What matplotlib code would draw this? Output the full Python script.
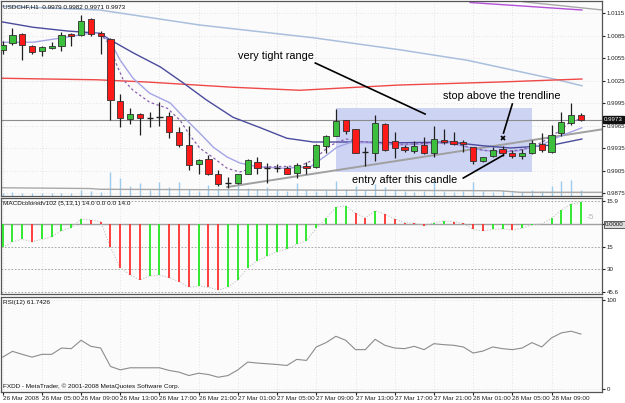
import matplotlib
matplotlib.use("Agg")
import matplotlib.pyplot as plt

# USDCHF H1, first bar 26 Mar 2008 01:00
opens = [1.0066, 1.0075, 1.0087, 1.0071, 1.0065, 1.0068, 1.0071, 1.0087, 1.0086, 1.0107,
         1.0089, 1.0081, 0.9998, 0.9974, 0.9981, 0.9975, 0.9976, 0.9978, 0.9957, 0.9939,
         0.9914, 0.9920, 0.9900, 0.9889, 0.9888, 0.9901, 0.9916, 0.9908, 0.9908, 0.9908,
         0.9902, 0.9911, 0.9910, 0.9938, 0.9951, 0.9972, 0.9960, 0.9930, 0.9929, 0.9967,
         0.9944, 0.9936, 0.9931, 0.9939, 0.9929, 0.9946, 0.9944, 0.9943, 0.9936, 0.9918,
         0.9924, 0.9934, 0.9929, 0.9924, 0.9928, 0.9941, 0.9930, 0.9955, 0.9968, 0.9979]
highs = [1.0078, 1.0095, 1.0088, 1.0072, 1.0071, 1.0077, 1.0090, 1.0088, 1.0112, 1.0108,
         1.0091, 1.0082, 1.0007, 0.9988, 0.9982, 0.9983, 0.9997, 0.9983, 0.9963, 0.9965,
         0.9921, 0.9926, 0.9906, 0.9896, 0.9901, 0.9920, 0.9923, 0.9915, 0.9914, 0.9911,
         0.9915, 0.9916, 0.9941, 0.9953, 0.9987, 0.9973, 0.9960, 0.9937, 0.9979, 0.9968,
         0.9957, 0.9939, 0.9945, 0.9950, 0.9965, 0.9960, 0.9957, 0.9946, 0.9937, 0.9923,
         0.9936, 0.9938, 0.9932, 0.9934, 0.9946, 0.9955, 0.9966, 0.9983, 0.9995, 0.9982]
lows = [1.0060, 1.0072, 1.0052, 1.0060, 1.0058, 1.0067, 1.0065, 1.0071, 1.0085, 1.0084,
        1.0061, 0.9972, 0.9963, 0.9967, 0.9952, 0.9963, 0.9964, 0.9949, 0.9936, 0.9906,
        0.9901, 0.9899, 0.9884, 0.9882, 0.9887, 0.9900, 0.9901, 0.9889, 0.9903, 0.9901,
        0.9895, 0.9901, 0.9909, 0.9929, 0.9951, 0.9954, 0.9928, 0.9911, 0.9918, 0.9931,
        0.9922, 0.9930, 0.9928, 0.9927, 0.9923, 0.9940, 0.9939, 0.9930, 0.9914, 0.9916,
        0.9923, 0.9925, 0.9922, 0.9921, 0.9927, 0.9930, 0.9929, 0.9951, 0.9966, 0.9971]
closes = [1.0072, 1.0086, 1.0073, 1.0063, 1.0070, 1.0071, 1.0086, 1.0085, 1.0105, 1.0087,
          1.0085, 0.9999, 0.9975, 0.9980, 0.9975, 0.9975, 0.9976, 0.9956, 0.9939, 0.9913,
          0.9919, 0.9900, 0.9887, 0.9889, 0.9900, 0.9919, 0.9909, 0.9908, 0.9908, 0.9901,
          0.9913, 0.9909, 0.9939, 0.9951, 0.9971, 0.9958, 0.9929, 0.9930, 0.9969, 0.9932,
          0.9935, 0.9933, 0.9938, 0.9929, 0.9947, 0.9943, 0.9941, 0.9940, 0.9918, 0.9923,
          0.9933, 0.9929, 0.9925, 0.9929, 0.9942, 0.9932, 0.9953, 0.9970, 0.9979, 0.9973]
volumes = [18, 24, 18, 18, 18, 18, 18, 18, 36, 30, 24, 144, 108, 60, 78, 36, 84, 54, 84, 42,
           30, 66, 48, 36, 78, 48, 42, 54, 36, 30, 78, 36, 30, 36, 90, 42, 60, 36, 72, 54,
           36, 30, 24, 30, 90, 30, 24, 30, 84, 30, 24, 36, 24, 24, 36, 30, 60, 90, 96, 36]

# moving averages: (bar, price)
ma_slow_x = [0, 3.1, 6.6, 9.9, 11.0, 13.3, 16.1, 18.4, 20.8, 23.5, 26.3, 29.0, 31.7, 35.4,
             40.5, 45.6, 49.0, 51.8, 54.1, 56.1, 59.1]
ma_slow_y = [1.0103, 1.0096, 1.0091, 1.0088, 1.0079, 1.0062, 1.0043, 1.0022, 0.9999, 0.9976,
             0.9962, 0.9948, 0.9943, 0.9943, 0.9942, 0.9943, 0.9938, 0.9935, 0.9937, 0.9939,
             0.9947]
ma_mid_x = [0, 3.1, 6.6, 8.9, 9.9, 11.0, 12.0, 13.3, 15.0, 17.1, 18.4, 20.1, 21.5, 22.9, 24.2,
            26.0, 28.6, 31.4, 33.1, 34.1, 35.4, 37.2, 40.5, 45.6, 47.7, 49.0, 50.7, 52.5, 53.8,
            55.1, 56.9, 59.1]
ma_mid_y = [1.0076, 1.0076, 1.0083, 1.0088, 1.0088, 1.0076, 1.0052, 1.0028, 1.0008, 0.9995,
            0.9977, 0.9955, 0.9936, 0.9923, 0.9915, 0.9910, 0.9908, 0.9910, 0.9926, 0.9936,
            0.9942, 0.9942, 0.9939, 0.9942, 0.9935, 0.9932, 0.9930, 0.9931, 0.9935, 0.9940,
            0.9951, 0.9962]
ma_fast_x = [9.9, 11.0, 11.5, 12.3, 13.3, 15.0, 16.8, 18.1, 19.1, 20.1, 21.5, 22.9, 24.2, 25.5,
             27.3, 30.3, 31.7, 33.1, 34.1, 35.1, 36.2, 37.2, 40.5, 45.6, 47.7, 49.0, 50.7, 52.5,
             53.8, 55.1, 55.8, 56.9, 57.6, 59.1]
ma_fast_y = [1.0088, 1.0072, 1.0050, 1.0026, 1.0012, 0.9996, 0.9988, 0.9972, 0.9952, 0.9935,
             0.9922, 0.9908, 0.9903, 0.9908, 0.9910, 0.9911, 0.9919, 0.9935, 0.9943, 0.9947,
             0.9944, 0.9943, 0.9940, 0.9942, 0.9936, 0.9932, 0.9930, 0.9932, 0.9936, 0.9943,
             0.9950, 0.9958, 0.9967, 0.9975]
ma_long_x = [0, 9.9, 20.1, 31.7, 40.5, 47.4, 56.6, 59.1]
ma_long_y = [1.0124, 1.0119, 1.0099, 1.0082, 1.0066, 1.0052, 1.0026, 1.0018]
ma_red_x = [0, 4.5, 9.6, 14.7, 23.5, 30.3, 40.5, 50.7, 59.1]
ma_red_y = [1.0028, 1.0027, 1.0026, 1.0023, 1.0016, 1.0012, 1.0019, 1.0023, 1.0027]
ma_purple_x = [47.7, 59.1]
ma_purple_y = [1.0129, 1.0119]
ma_gray_x = [53.1, 61.2]
ma_gray_y = [1.0130, 1.0119]
ma_low_x = [0, 8.9, 9.9, 30.3, 50.7, 52.8, 61.2]
ma_low_y = [0.9882, 0.9881, 0.9880, 0.9879, 0.9878, 0.9876, 0.9876]

trend_x = [22.9, 61.2]
trend_y = [0.9883, 0.9960]

macd = [-15.4, -11.7, -10.1, -11.7, -10.1, -8.3, -4.3, -2.3, 3.6, 2.9,
        1.8, -15.4, -29.1, -34.0, -37.4, -34.7, -34.2, -35.8, -38.5, -42.3,
        -41.4, -42.3, -44.1, -42.3, -37.4, -29.1, -24.4, -21.3, -18.4, -16.6,
        -13.4, -11.0, -2.7, 4.0, 11.4, 12.5, 7.4, 4.4, 9.1, 6.9,
        3.6, 1.1, 0.9, -0.9, 1.1, 2.2, 1.8, 0.7, -3.4, -4.5,
        -3.4, -3.1, -3.8, -2.7, -0.3, 0.3, 4.0, 9.6, 13.6, 14.8]
rsi = [35.8, 42.3, 38.9, 35.8, 38.9, 38.9, 46.0, 45.3, 54.7, 47.9,
       46.0, 25.3, 21.5, 23.8, 23.8, 23.8, 23.8, 20.8, 18.9, 15.1,
       17.7, 16.2, 13.2, 15.1, 21.5, 30.2, 29.1, 28.3, 27.5, 26.4,
       33.2, 32.1, 47.2, 52.1, 59.2, 54.7, 44.2, 44.2, 55.8, 49.1,
       46.0, 45.3, 47.9, 44.2, 50.9, 49.8, 49.1, 47.2, 40.4, 42.6,
       47.2, 45.3, 44.2, 46.0, 52.1, 47.2, 57.4, 63.0, 64.9, 61.7]

time_labels = ['26 Mar 2008', '26 Mar 05:00', '26 Mar 09:00', '26 Mar 13:00', '26 Mar 17:00',
               '26 Mar 21:00', '27 Mar 01:00', '27 Mar 05:00', '27 Mar 09:00', '27 Mar 13:00',
               '27 Mar 17:00', '27 Mar 21:00', '28 Mar 01:00', '28 Mar 05:00', '28 Mar 09:00']
price_ticks = [1.0115, 1.0085, 1.0055, 1.0025, 0.9995, 0.9965, 0.9935, 0.9905, 0.9875]
last_price = 0.9973

W, H = 625, 403
def px_rect(x0, y0, x1, y1):
    return [x0 / W, 1 - y1 / H, (x1 - x0) / W, (y1 - y0) / H]

plt.rcParams['font.family'] = ['Liberation Sans', 'DejaVu Sans']

fig = plt.figure(figsize=(6.25, 4.03), dpi=100)
fig.patch.set_facecolor('white')

ax = fig.add_axes(px_rect(1, 1, 602, 195.5))
axm = fig.add_axes(px_rect(1, 197.5, 602, 294.3), sharex=ax)
axr = fig.add_axes(px_rect(1, 296.5, 602, 392), sharex=ax)

bars = list(range(len(closes)))
grid_bars = bars[::4]
dot = (0, (1, 3))
small = 4.6
ysmall = 4.4

for a in (ax, axm, axr):
    a.set_facecolor('#fbfbfb')
    for s in a.spines.values():
        s.set_color('#555555')
        s.set_linewidth(0.9)
    a.yaxis.tick_right()
    a.tick_params(axis='y', labelsize=ysmall, length=2, pad=1.2, colors='#222222')
    a.set_xticks(grid_bars)
    for b in grid_bars:
        a.axvline(b, color='#cfcfcf', lw=0.5, ls=dot, zorder=0)
ax.set_xlim(-0.17, 61.15)

# ---- price panel
ax.set_ylim(0.98717, 1.0131)
ax.set_yticks(price_ticks)
ax.set_yticklabels(['%.4f' % p for p in price_ticks])
for p in price_ticks:
    ax.axhline(p, color='#cfcfcf', lw=0.5, ls=dot, zorder=0)
ax.tick_params(axis='x', length=0, labelbottom=False)

ax.add_patch(plt.Rectangle((34.0, 0.99034), 20.0, 0.99879 - 0.99034,
                           facecolor='#cdd4f3', edgecolor='none', zorder=1))

ax.vlines(bars, 0, [v / 1170 for v in volumes], transform=ax.get_xaxis_transform(),
          color='#9ccbf0', lw=1, zorder=1)

ax.plot(ma_long_x, ma_long_y, color='#a9bfdc', lw=1.1, zorder=2)
ax.plot(ma_red_x, ma_red_y, color='#f04848', lw=1.0, zorder=2)
ax.plot(ma_purple_x, ma_purple_y, color='#b450d8', lw=1.0, zorder=2)
ax.plot(ma_gray_x, ma_gray_y, color='#a8a8a8', lw=1.0, zorder=2)
ax.plot(ma_low_x, ma_low_y, color='#a8a8a8', lw=1.0, zorder=2)
ax.plot(trend_x, trend_y, color='#a0a0a0', lw=1.4, zorder=2)
ax.axhline(last_price, color='#8c8c8c', lw=0.8, zorder=2)
ax.plot(ma_slow_x, ma_slow_y, color='#4b4b9e', lw=1.0, zorder=3)
ax.plot(ma_mid_x, ma_mid_y, color='#a4a4e6', lw=1.0, zorder=3)
ax.plot(ma_fast_x, ma_fast_y, color='#8a5fb0', lw=0.9, ls=(0, (2, 2)), zorder=3)

for i in bars:
    o, h, l, c = opens[i], highs[i], lows[i], closes[i]
    ax.vlines(i, l, h, color='#202020', lw=0.9, zorder=4)
    if abs(c - o) < 0.00003:
        ax.hlines(o, i - 0.32, i + 0.32, color='#202020', lw=1.0, zorder=5)
    else:
        col = '#3cbf3c' if c > o else '#ff1a1a'
        ax.bar(i, c - o, bottom=o, width=0.64, color=col, edgecolor='#303030',
               lw=0.6, zorder=5)

ax.annotate('%.4f' % last_price, xy=(1.003, last_price), xycoords=('axes fraction', 'data'),
            fontsize=ysmall, color='white', va='center', ha='left', annotation_clip=False,
            bbox=dict(boxstyle='square,pad=0.15', fc='#101010', ec='#101010'))
ax.text(0.004, 0.985, 'USDCHF,H1  0.9979 0.9982 0.9971 0.9973', transform=ax.transAxes,
        fontsize=small, va='top', ha='left', color='#111111')

note = dict(fontsize=7.8, color='black', va='center', ha='left', zorder=7)
ax.text(24.0, 1.00583, 'very tight range', **note)
ax.text(44.9, 1.0005, 'stop above the trendline', **note)
ax.text(35.6, 0.98923, 'entry after this candle', **note)
ax.plot([31.9, 43.1], [1.00483, 0.99803], color='black', lw=1.2, zorder=7)
ax.plot([52.0, 51.1], [0.99937, 0.9955], color='black', lw=1.2, zorder=7)
ax.plot([47.0, 51.1], [0.9895, 0.99257], color='black', lw=1.2, zorder=7)
ax.plot([51.0], [0.99477], marker='x', color='black', ms=3.5, mew=1.2, zorder=7)

# ---- MACD panel
axm.set_ylim(-47.0, 18.0)
axm.set_yticks([15.9, 0, -15, -30, -45.6])
axm.set_yticklabels(['15.9', '', '15', '30', '45.6'])
axm.tick_params(axis='x', length=0, labelbottom=False)
for lv in [15.9, -15, -30, -45.6]:
    axm.axhline(lv, color='#9a9a9a', lw=0.6, ls=(0, (2, 2)), zorder=1)
axm.axhline(0, color='#a0a0a0', lw=1.0, zorder=1)
macd_cols = ['#22e622' if i == 0 or macd[i] >= macd[i - 1] else '#ff3030' for i in bars]
axm.vlines(bars, 0, macd, colors=macd_cols, lw=1.3, zorder=3)
axm.plot(bars, macd, color='#c4c4c4', lw=0.8, ls=(0, (1, 1.5)), zorder=2)
axm.text(0.004, 0.96, 'MACDcoloredv102 (5,13,1) 14.0 0.0 0.0 14.0', transform=axm.transAxes,
         fontsize=small, va='top', ha='left', color='#111111')
axm.text(59.6, 4.5, '-5', fontsize=6, color='#b8b8b8', va='center', ha='left')
axm.annotate('0.0000', xy=(1.005, 0), xycoords=('axes fraction', 'data'), fontsize=ysmall,
             color='#111111', va='center', ha='left', annotation_clip=False,
             bbox=dict(boxstyle='square,pad=0.15', fc='#dcdcdc', ec='#444444', lw=0.6))

# ---- RSI panel
axr.set_ylim(-3.4, 103.9)
axr.set_yticks([100, 0])
axr.set_yticklabels(['100', '0'])
for lv in [100, 0]:
    axr.axhline(lv, color='#cfcfcf', lw=0.5, ls=dot, zorder=0)
axr.plot(bars, rsi, color='#8c8c8c', lw=0.8, zorder=3)
axr.text(0.004, 0.96, 'RSI(12) 61.7426', transform=axr.transAxes,
         fontsize=small, va='top', ha='left', color='#111111')
axr.text(0.004, 0.03, 'FXDD - MetaTrader, \u00a9 2001-2008 MetaQuotes Software Corp.',
         transform=axr.transAxes, fontsize=small, va='bottom', ha='left', color='#111111')
axr.set_xticklabels(time_labels, ha='left')
axr.tick_params(axis='x', labelsize=small, length=2, pad=1.2, colors='#222222')

fig.savefig('out.png', dpi=100)
